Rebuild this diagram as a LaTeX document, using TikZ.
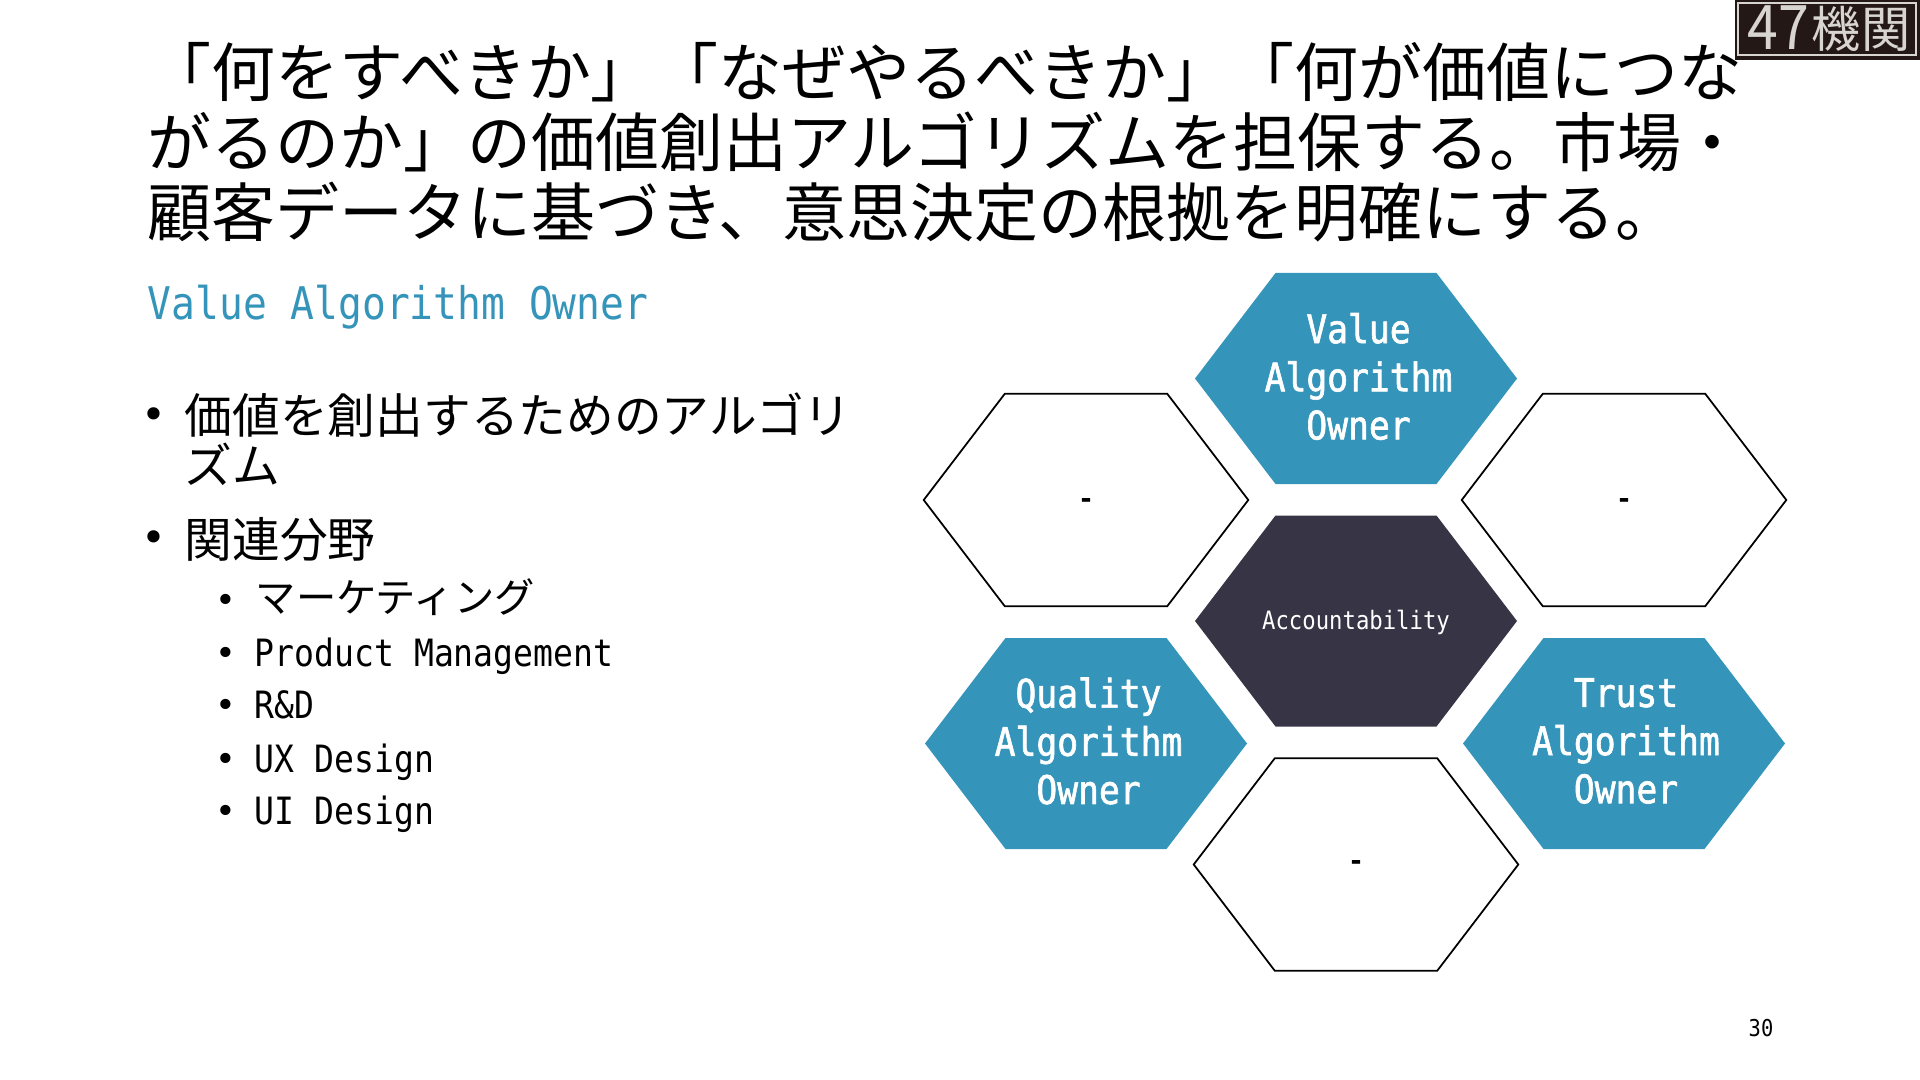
\documentclass[tikz,border=0pt]{standalone}
\usepackage{xcolor}
\usepackage{fontspec}
\usetikzlibrary{positioning}
\setmainfont{Noto Sans CJK JP}
\newfontfamily\monofont[FakeStretch=0.88]{DejaVu Sans Mono}
\newfontfamily\hexfont[FakeStretch=0.88,FakeBold=1.6]{DejaVu Sans Mono}
\newfontfamily\bulletfont{DejaVu Sans}
\definecolor{primary}{HTML}{3494BA}
\definecolor{centerbg}{HTML}{373545}
\definecolor{logobg}{HTML}{231815}
\definecolor{logofg}{HTML}{D8D4D0}
\tikzset{
  bodyline/.style={anchor=base west, inner sep=0pt},
  titleline/.style={bodyline, font=\fontsize{18.2}{22}\selectfont},
  mainline/.style={bodyline, font=\fontsize{13.58}{16}\selectfont},
  subline/.style={bodyline, font=\fontsize{11.47}{14}\selectfont},
  sublatin/.style={bodyline, font=\monofont\fontsize{10.7}{13}\selectfont},
  mainbullet/.style={inner sep=0pt, font=\bulletfont\fontsize{12}{16}\selectfont},
  subbullet/.style={inner sep=0pt, font=\bulletfont\fontsize{10}{13}\selectfont},
  hexfilled/.style={fill=primary},
  hexdark/.style={fill=centerbg},
  hexempty/.style={draw=black, line width=0.5pt, line join=miter, scale=1.008},
  hexlabel/.style={text=white, align=center, inner sep=0pt, font=\hexfont\fontsize{11.2}{13.7}\selectfont},
  centerlabel/.style={text=white, inner sep=0pt, font=\monofont\fontsize{7.2}{9}\selectfont},
  dashlabel/.style={inner sep=0pt, font=\hexfont\fontsize{10}{12}\selectfont},
}
% one hexagon cell: x, y, style
\newcommand{\hexcell}[3]{\path[shift={(#1,#2)}, #3] (-1.61,0) -- (-0.805,-1.055) -- (0.805,-1.055) -- (1.61,0) -- (0.805,1.055) -- (-0.805,1.055) -- cycle;}
\begin{document}
\begin{tikzpicture}[x=1cm, y=-1cm]
    \useasboundingbox (0,0) rectangle (19.2,10.8);
    % Title
    \node[titleline] (titleone) at (1.47,0.97) {「何をすべきか」「なぜやるべきか」「何が価値につな};
    \node[titleline] (titletwo) at (1.47,1.665) {がるのか」の価値創出アルゴリズムを担保する。市場・};
    \node[titleline] (titlethree) at (1.47,2.365) {顧客データに基づき、意思決定の根拠を明確にする。};
    \node[bodyline, text=primary, font=\monofont\fontsize{12.8}{15}\selectfont] (rolename) at (1.47,3.2) {Value Algorithm Owner};
    % Logo
    \fill[logobg] (17.35,0) rectangle (19.2,0.6);
    \draw[logofg, line width=0.5pt] (17.38,0.03) rectangle (19.16,0.55);
    \node[text=logofg, inner sep=0pt, xscale=0.9, font=\fontsize{17.5}{18}\selectfont] (logonum) at (17.78,0.28) {47};
    \node[text=logofg, inner sep=0pt, font=\fontsize{14}{15}\selectfont] (logoword) at (18.61,0.29) {機関};
    % Bullets
    \node[mainbullet] (markone) at (1.54,4.19) {•};
    \node[mainline] (mainone) at (1.84,4.33) {価値を創出するためのアルゴリ};
    \node[mainline] (mainonb) at (1.84,4.84) {ズム};
    \node[mainbullet] (marktwo) at (1.54,5.42) {•};
    \node[mainline] (maintwo) at (1.84,5.57) {関連分野};
    \node[subbullet] (markmkt) at (2.26,6.03) {•};
    \node[subline] (submkt) at (2.55,6.12) {マーケティング};
    \node[subbullet] (markpm) at (2.26,6.56) {•};
    \node[sublatin] (subpm) at (2.54,6.66) {Product Management};
    \node[subbullet] (markrd) at (2.26,7.08) {•};
    \node[sublatin] (subrd) at (2.54,7.18) {R\&D};
    \node[subbullet] (markux) at (2.26,7.62) {•};
    \node[sublatin] (subux) at (2.54,7.72) {UX Design};
    \node[subbullet] (markui) at (2.26,8.14) {•};
    \node[sublatin] (subui) at (2.54,8.24) {UI Design};
    % Hexagons
    \hexcell{13.56}{3.785}{hexfilled}
    \hexcell{10.86}{5.00}{hexempty}
    \hexcell{16.24}{5.00}{hexempty}
    \hexcell{13.56}{6.21}{hexdark}
    \hexcell{10.86}{7.435}{hexfilled}
    \hexcell{16.24}{7.435}{hexfilled}
    \hexcell{13.56}{8.645}{hexempty}
    % Labels
    \node[hexlabel] (valueowner) at (13.585,3.765) {Value\\Algorithm\\Owner};
    \node[dashlabel] (dashleft) at (10.86,5.04) {-};
    \node[dashlabel] (dashright) at (16.24,5.04) {-};
    \node[centerlabel] (accountability) at (13.56,6.22) {Accountability};
    \node[hexlabel] (qualityowner) at (10.885,7.41) {Quality\\Algorithm\\Owner};
    \node[hexlabel] (trustowner) at (16.26,7.41) {Trust\\Algorithm\\Owner};
    \node[dashlabel] (dashbottom) at (13.56,8.66) {-};
    % Page number
    \node[inner sep=0pt, font=\monofont\fontsize{6.6}{8}\selectfont] (pagenum) at (17.61,10.28) {30};
\end{tikzpicture}
\end{document}
